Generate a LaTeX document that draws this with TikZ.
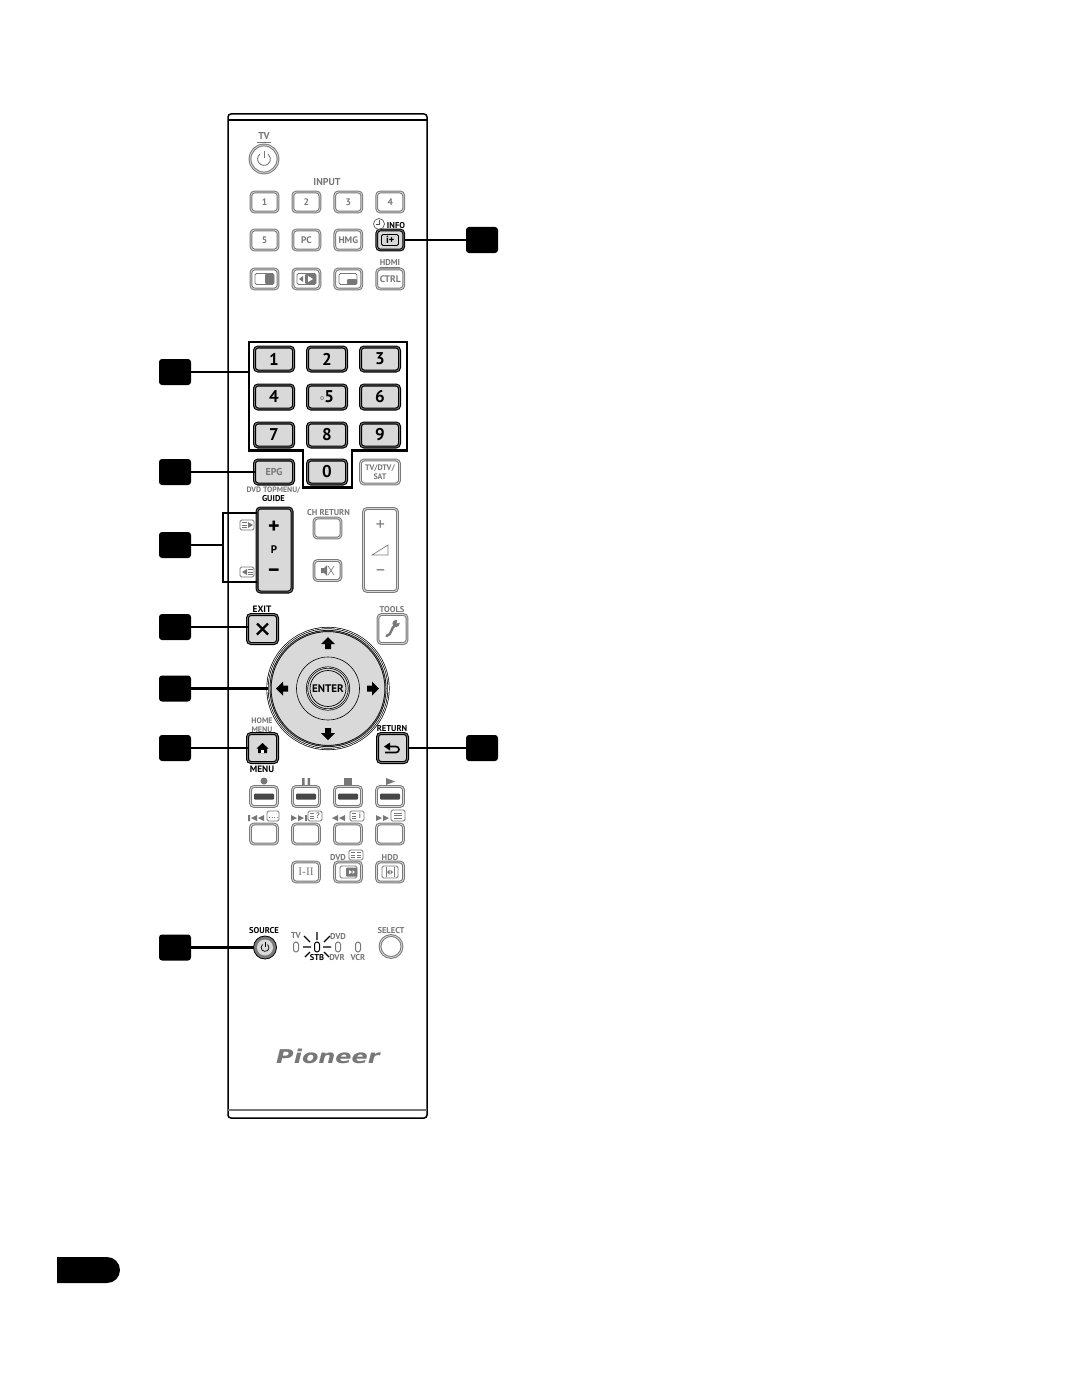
\documentclass[tikz,border=0pt]{standalone}
\usepackage{fontspec}
\setmainfont{PT Sans}
\usepackage{xcolor}
\usepackage{tikz}
\usetikzlibrary{arrows.meta,positioning,shapes.misc}
\definecolor{keygrey}{HTML}{7A7A7A}
\definecolor{keyfill}{HTML}{D9D9D9}
\definecolor{labelgrey}{HTML}{777777}

\begin{document}
\begin{tikzpicture}[x=1pt, y=-1pt,
  greykey/.style={draw=keygrey, line width=1pt, double=keyfill, double distance=0.8pt, fill=white, rounded corners=3.5pt, minimum width=27pt, minimum height=20pt, inner sep=0pt, outer sep=0pt, text=labelgrey, font=\bfseries\fontsize{9.5}{9.5}\selectfont, align=center},
  darkkey/.style={draw=black, line width=1.1pt, double=keygrey, double distance=0.8pt, fill=keyfill, rounded corners=3.5pt, minimum width=39pt, minimum height=24pt, inner sep=0pt, outer sep=0pt, text=black, font=\bfseries\fontsize{17}{17}\selectfont},
  squarekey/.style={darkkey, minimum width=30pt, minimum height=29pt},
  tag/.style={fill=black, rounded corners=3pt, minimum width=32pt, minimum height=26pt, inner sep=0pt, outer sep=0pt},
  lbl/.style={inner sep=0pt, text=labelgrey, font=\bfseries\fontsize{8.5}{8.5}\selectfont, align=center},
  lbldark/.style={lbl, text=black},
  lead/.style={draw=black, line width=2.2pt},
  ledlamp/.style={draw=labelgrey, line width=1pt, rounded corners=2.5pt, minimum width=5pt, minimum height=10pt, inner sep=0pt},
  ray/.style={draw=black, line width=1.3pt},
  ico/.style={draw=labelgrey, line width=0.8pt, rounded corners=1.5pt},
  icof/.style={fill=labelgrey},
  icol/.style={draw=labelgrey, line width=0.6pt},
]
  \useasboundingbox (0,0) rectangle (1078,1388);

  % remote body
  \node[draw=black, line width=1.5pt, rounded corners=3pt, minimum width=199pt, minimum height=1004pt, inner sep=0pt, outer sep=0pt] (body) at (327.5,616) {};
  \draw[black, line width=1.5pt] (228,120) -- (427,120);
  \draw[labelgrey, line width=1.5pt] (228,1110) -- (427,1110);

  % tv power
  \node[lbl, font=\bfseries\fontsize{10}{10}\selectfont] (tvtext) at (264,136) {TV};
  \draw[labelgrey, line width=0.8pt] (257,142.5) -- (271,142.5);
  \node[circle, draw=keygrey, line width=1pt, double=keyfill, double distance=0.8pt, fill=white, minimum size=28pt, inner sep=0pt] (tvpower) at (264,159) {};
  \draw[keygrey, line width=0.9pt] (259.9,154.1) arc[start angle=130, end angle=410, radius=6.4pt];
  \draw[keygrey, line width=0.9pt] (264,151.5) -- (264,158.5);

  % input keys
  \node[lbl, font=\bfseries\fontsize{10}{10}\selectfont] (inputtext) at (327,182) {INPUT};
  \node[greykey] (in1) at (264.5,202) {1};
  \node[greykey, right=14.9pt of in1] (in2) {2};
  \node[greykey, right=14.9pt of in2] (in3) {3};
  \node[greykey, right=14.9pt of in3] (in4) {4};
  \node[greykey] (in5) at (264.5,240) {5};
  \node[greykey, right=14.9pt of in5] (inpc) {PC};
  \node[greykey, right=14.9pt of inpc] (inhmg) {HMG};
  \node[greykey, right=14.9pt of inhmg, draw=black, double=keygrey, fill=keyfill, text=black] (info) {\fontsize{10.5}{10.5}\selectfont i+};
  \draw[black, line width=0.8pt, rounded corners=1.5pt] (381.5,234.5) rectangle (398.5,245.5);
  \draw[labelgrey!70!black, line width=0.7pt] (379,224) circle[radius=5.5pt];
  \draw[labelgrey!70!black, line width=0.5pt] (379,220) -- (379,224) -- (375.5,224);
  \node[lbldark] (infotext) at (396,226) {INFO};

  \node[greykey] (split) at (264.5,279) {};
  \node[greykey, right=14.9pt of split] (swap) {};
  \node[greykey, right=14.9pt of swap] (pip) {};
  \node[greykey, right=14.9pt of pip] (ctrl) {CTRL};
  \node[lbl] (hdmitext) at (390,262.5) {HDMI};
  \draw[labelgrey, line width=0.7pt] (380,267.5) -- (400,267.5);
  \draw[ico] (255,273.5) rectangle (274,284.5);
  \fill[icof, rounded corners=1.5pt] (265,273.5) rectangle (274,284.5);
  \draw[ico] (297,273.5) rectangle (316,284.5);
  \fill[icof, rounded corners=1.5pt] (305,273.5) rectangle (316,284.5);
  \fill[icof] (299,279) -- (303,276) -- (303,282) -- cycle;
  \fill[white] (313,279) -- (308,276) -- (308,282) -- cycle;
  \draw[ico] (339,273.5) rectangle (357,284.5);
  \fill[icof, rounded corners=1pt] (347,279) rectangle (357,284.5);

  % number keys
  \node[darkkey] (num1) at (274,359) {1};
  \node[darkkey, right=14pt of num1] (num2) {2};
  \node[darkkey, right=14pt of num2] (num3) {3};
  \node[darkkey, below=14pt of num1] (num4) {4};
  \node[darkkey, right=14pt of num4] (num5) {\raisebox{2.5pt}{\fontsize{8}{8}\selectfont$\circ$}\fontsize{17}{17}\selectfont 5};
  \node[darkkey, right=14pt of num5] (num6) {6};
  \node[darkkey, below=14pt of num4] (num7) {7};
  \node[darkkey, right=14pt of num7] (num8) {8};
  \node[darkkey, right=14pt of num8] (num9) {9};
  \node[darkkey] (num0) at (327,472) {0};
  \node[darkkey, text=labelgrey, font=\bfseries\fontsize{10}{10}\selectfont] (epg) at (274,472) {EPG};
  \node[greykey, minimum width=39pt, minimum height=24pt, font=\bfseries\fontsize{8}{8.5}\selectfont] (tvsat) at (380,472) {TV/DTV/\\SAT};
  \draw[black, line width=2.4pt] (249,342) -- (407,342) -- (407,450.5) -- (352,450.5) -- (352,487.5) -- (303,487.5) -- (303,450.5) -- (249,450.5) -- cycle;
  \coordinate (numgroup) at (249,372);

  % programme key
  \node[lbl, font=\bfseries\fontsize{7.8}{7.8}\selectfont] (dvdtext) at (273.5,490.5) {DVD TOPMENU/};
  \node[lbldark] (guidetext) at (273.5,498.5) {GUIDE};
  \node[darkkey, minimum width=35pt, minimum height=84pt] (prog) at (274.5,550) {};
  \node[inner sep=0pt, font=\bfseries\fontsize{22}{22}\selectfont] (progplus) at (274,527) {+};
  \node[inner sep=0pt, font=\bfseries\fontsize{11}{11}\selectfont] (progp) at (274,550) {P};
  \node[inner sep=0pt, font=\bfseries\fontsize{22}{22}\selectfont] (progminus) at (274,573) {--};
  \draw[ico] (240,520) rectangle (254,530);
  \fill[icof] (248,522) -- (253,525) -- (248,528) -- cycle;
  \draw[icol] (242,522.5) -- (247,522.5) (242,525) -- (247,525) (242,527.5) -- (247,527.5);
  \draw[ico] (240,567) rectangle (254,577);
  \fill[icof] (247,569) -- (242,572) -- (247,575) -- cycle;
  \draw[icol] (248,569.5) -- (253,569.5) (248,572) -- (253,572) (248,574.5) -- (253,574.5);
  \draw[black, line width=2.4pt] (257,513) -- (223,513) -- (223,582) -- (257,582);
  \coordinate (proggroup) at (223,545);

  % channel return and volume
  \node[lbl] (chtext) at (328.5,512.5) {CH RETURN};
  \node[greykey] (chret) at (327.5,528) {};
  \node[greykey] (mute) at (327.5,570.5) {};
  \fill[icof] (321,568) -- (324,568) -- (327,565) -- (327,576) -- (324,573) -- (321,573) -- cycle;
  \draw[icol] (328,566) -- (334,575) (334,566) -- (328,575);
  \node[greykey, minimum width=34pt, minimum height=83pt] (vol) at (380.5,550) {};
  \node[inner sep=0pt, text=keygrey, font=\fontsize{18}{18}\selectfont] (volplus) at (380.5,526) {+};
  \draw[keygrey, line width=0.7pt] (372,555) -- (388,555) -- (388,545) -- cycle;
  \node[inner sep=0pt, text=keygrey, font=\fontsize{18}{18}\selectfont] (volminus) at (380.5,573) {--};

  % exit, tools
  \node[lbldark, font=\bfseries\fontsize{9.3}{9.3}\selectfont] (exittext) at (262,609.5) {EXIT};
  \node[squarekey] (exitkey) at (262.5,629) {};
  \draw[black, line width=2.2pt] (257,623.5) -- (268,634.5) (268,623.5) -- (257,634.5);
  \node[lbl] (toolstext) at (392,610) {TOOLS};
  \node[greykey, minimum width=29pt, minimum height=29pt] (tools) at (392.5,629) {};
  \draw[labelgrey, line width=2.4pt, line cap=round] (386.5,636) .. controls (392,635) and (391,627) .. (395,625.5);
  \fill[labelgrey] (396,623.5) circle[radius=3.6pt];
  \fill[white] (396.5,623.5) -- (398,618.5) -- (401.5,622) -- cycle;

  % arrow pad
  \node[circle, draw=black, line width=0.7pt, double=white, double distance=0.7pt, minimum size=121pt, inner sep=0pt, outer sep=0pt] (padring) at (328,688.5) {};
  \node[circle, draw=black, line width=0.7pt, double=keygrey, double distance=0.6pt, fill=keyfill, minimum size=115pt, inner sep=0pt, outer sep=0pt] (pad) at (328,688.5) {};
  \node[circle, draw=black, line width=0.6pt, minimum size=63pt, inner sep=0pt] (padinner) at (328,688.5) {};
  \node[circle, draw=black, line width=0.7pt, double=keyfill, double distance=0.7pt, minimum size=42pt, inner sep=0pt] (enterring) at (328,688.5) {};
  \node[circle, draw=black, line width=0.7pt, minimum size=36pt, inner sep=0pt, font=\bfseries\fontsize{11}{11}\selectfont] (enter) at (328,688.5) {ENTER};
  \fill[shift={(328,643)}] (0,-6) -- (7,1) -- (3,1) -- (3,6) -- (-3,6) -- (-3,1) -- (-7,1) -- cycle;
  \fill[shift={(328,734)}] (0,6) -- (7,-1) -- (3,-1) -- (3,-6) -- (-3,-6) -- (-3,-1) -- (-7,-1) -- cycle;
  \fill[shift={(282,688.5)}] (-6,0) -- (1,-7) -- (1,-3) -- (6,-3) -- (6,3) -- (1,3) -- (1,7) -- cycle;
  \fill[shift={(373,688.5)}] (6,0) -- (-1,-7) -- (-1,-3) -- (-6,-3) -- (-6,3) -- (-1,3) -- (-1,7) -- cycle;

  % home, return
  \node[lbl, font=\bfseries\fontsize{8}{8.5}\selectfont] (hometext) at (262,725) {HOME\\MENU};
  \node[squarekey] (home) at (262.5,748) {};
  \fill (262.5,743) -- (268.5,748.5) -- (267,748.5) -- (267,753) -- (258,753) -- (258,748.5) -- (256.5,748.5) -- cycle;
  \fill[white] (261,749.5) rectangle (264,753);
  \node[lbldark, font=\bfseries\fontsize{9.3}{9.3}\selectfont] (menutext) at (262,769.5) {MENU};
  \node[lbldark] (returntext) at (392,729) {RETURN};
  \node[squarekey] (retkey) at (392.5,748) {};
  \draw[black, line width=1.6pt] (389,746.5) -- (396,746.5) arc[start angle=90, end angle=-90, radius=3pt] -- (385,752.5);
  \fill (384,746.5) -- (390,742.5) -- (390,750.5) -- cycle;

  % transport keys
  \node[greykey] (rec) at (264,796.5) {};
  \node[greykey, right=15pt of rec] (pause) {};
  \node[greykey, right=15pt of pause] (stop) {};
  \node[greykey, right=15pt of stop] (play) {};
  \fill[rounded corners=1pt, labelgrey!60!black] (254,793.5) rectangle (274,799.5) (296,793.5) rectangle (316,799.5) (338,793.5) rectangle (358,799.5) (380,793.5) rectangle (400,799.5);
  \fill[labelgrey] (264,781) circle[radius=3.5pt];
  \fill[labelgrey] (302,778) rectangle (304.5,785) (307.5,778) rectangle (310,785);
  \fill[labelgrey] (344,778) rectangle (352,785);
  \fill[labelgrey] (386,778) -- (395,781.5) -- (386,785) -- cycle;

  \node[greykey] (prev) at (264,834) {};
  \node[greykey, right=15pt of prev] (next) {};
  \node[greykey, right=15pt of next] (rew) {};
  \node[greykey, right=15pt of rew] (ffw) {};
  \fill[labelgrey] (248,815) rectangle (250,821) (257,815) -- (251,818) -- (257,821) -- cycle (264,815) -- (258,818) -- (264,821) -- cycle;
  \draw[ico] (267,811) rectangle (279,821);
  \draw[icol, dotted] (269,817.5) -- (277,817.5);
  \fill[labelgrey] (291,815) -- (297,818) -- (291,821) -- cycle (298,815) -- (304,818) -- (298,821) -- cycle (305,815) rectangle (307,821);
  \draw[ico] (308,811) rectangle (322,821);
  \draw[icol] (310,813.5) -- (314,813.5) (310,816) -- (314,816) (310,818.5) -- (314,818.5);
  \node[inner sep=0pt, text=labelgrey, font=\bfseries\fontsize{8}{8}\selectfont] (helpmark) at (318,816) {?};
  \fill[labelgrey] (338,815) -- (332,818) -- (338,821) -- cycle (345,815) -- (339,818) -- (345,821) -- cycle;
  \draw[ico] (350,811) rectangle (364,821);
  \draw[icol] (352,813.5) -- (356,813.5) (352,816) -- (356,816) (352,818.5) -- (356,818.5);
  \node[inner sep=0pt, text=labelgrey, font=\bfseries\fontsize{8}{8}\selectfont] (infomark) at (360,816) {i};
  \fill[labelgrey] (376,815) -- (382,818) -- (376,821) -- cycle (383,815) -- (389,818) -- (383,821) -- cycle;
  \draw[ico] (391,810) rectangle (405,821);
  \draw[icol] (394,813) -- (402,813) (394,815.5) -- (402,815.5) (394,818) -- (402,818);

  \node[greykey, font=\fontspec{Liberation Serif}\fontsize{11.5}{11.5}\selectfont] (audio) at (306,872) {I-II};
  \node[greykey] (dvdkey) at (348,872) {};
  \node[greykey] (hddkey) at (390,872) {};
  \draw[ico] (340,866) rectangle (357,878);
  \fill[icof, rounded corners=1pt] (346,867.5) rectangle (357,876.5);
  \fill[white] (349,870) -- (352,872) -- (349,874) -- cycle (352.5,870) -- (355,872) -- (352.5,874) -- cycle;
  \draw[ico] (382,866) rectangle (398,878);
  \draw[icol] (386,867) -- (386,877) (394,867) -- (394,877);
  \fill[icof] (387,872) -- (389.5,869.5) -- (389.5,874.5) -- cycle (393,872) -- (390.5,869.5) -- (390.5,874.5) -- cycle;
  \node[lbl] (dvdlabel) at (338,857.5) {DVD};
  \draw[ico] (349,850) rectangle (363,860);
  \draw[icol] (351,852.5) -- (355,852.5) (351,855) -- (355,855) (351,857.5) -- (355,857.5) (357,852.5) -- (361,852.5) (357,855) -- (361,855) (357,857.5) -- (361,857.5);
  \node[lbl] (hddlabel) at (390,857.5) {HDD};

  % source row
  \node[lbldark] (sourcetext) at (264,931) {SOURCE};
  \node[circle, draw=black, line width=0.8pt, fill=keygrey, minimum size=23pt, inner sep=0pt, outer sep=0pt] (source) at (265,947.5) {};
  \node[circle, fill=keyfill, minimum size=16pt, inner sep=0pt] (sourcecap) at (265,947.5) {};
  \draw[black, line width=0.7pt] (262.5,944.5) arc[start angle=130, end angle=410, radius=3.9pt];
  \draw[black, line width=0.7pt] (265,942) -- (265,947);

  \node[lbl] (ledtvtext) at (296,936) {TV};
  \node[ledlamp] (ledtv) at (296,947) {};
  \node[ledlamp, draw=black] (ledstb) at (317,947) {};
  \node[lbldark] (ledstbtext) at (317,958) {STB};
  \node[ledlamp] (leddvd) at (338,947) {};
  \node[lbl] (leddvdtext) at (338,937) {DVD};
  \node[lbl] (leddvrtext) at (337,958) {DVR};
  \node[ledlamp] (ledvcr) at (358,947) {};
  \node[lbl] (ledvcrtext) at (358,958) {VCR};
  \draw[ray] (317,932) -- (317,940) (304,936) -- (310,942) (330,936) -- (324,942) (303,947) -- (311,947) (323,947) -- (331,947) (305,957) -- (310,952) (329,957) -- (324,952);

  \node[lbl] (selecttext) at (391,930.5) {SELECT};
  \node[circle, draw=keygrey, line width=1pt, double=keyfill, double distance=0.8pt, fill=white, minimum size=22pt, inner sep=0pt] (selectkey) at (391,946.5) {};

  % logo
  \node[inner sep=0pt, text=labelgrey, font=\fontspec{DejaVu Sans}\bfseries\itshape\fontsize{19}{19}\selectfont] (logo) at (328,1056) {\scalebox{1.26}[1]{Pioneer}};

  % number tags
  \node[tag] (tinfo) at (482,240) {};
  \node[tag] (tnum) at (175,372) {};
  \node[tag] (tepg) at (175,472) {};
  \node[tag] (tprog) at (175,545) {};
  \node[tag] (texit) at (175,627) {};
  \node[tag] (tpad) at (175,688.5) {};
  \node[tag] (thome) at (175,748) {};
  \node[tag] (tret) at (482,748) {};
  \node[tag] (tsource) at (175,947.5) {};

  \draw[lead] (tinfo) -- (info);
  \draw[lead] (tnum) -- (numgroup);
  \draw[lead] (tepg) -- (epg);
  \draw[lead] (tprog) -- (proggroup);
  \draw[lead] (texit) -- (exitkey.west |- texit);
  \draw[lead] (tpad) -- (padring);
  \draw[lead] (thome) -- (home);
  \draw[lead] (tret) -- (retkey);
  \draw[lead] (tsource) -- (source);

  % page tab
  \node[rounded rectangle, rounded rectangle west arc=none, fill=black, minimum width=63pt, minimum height=26pt, inner sep=0pt] (pagetab) at (88.5,1270) {};
\end{tikzpicture}
\end{document}
